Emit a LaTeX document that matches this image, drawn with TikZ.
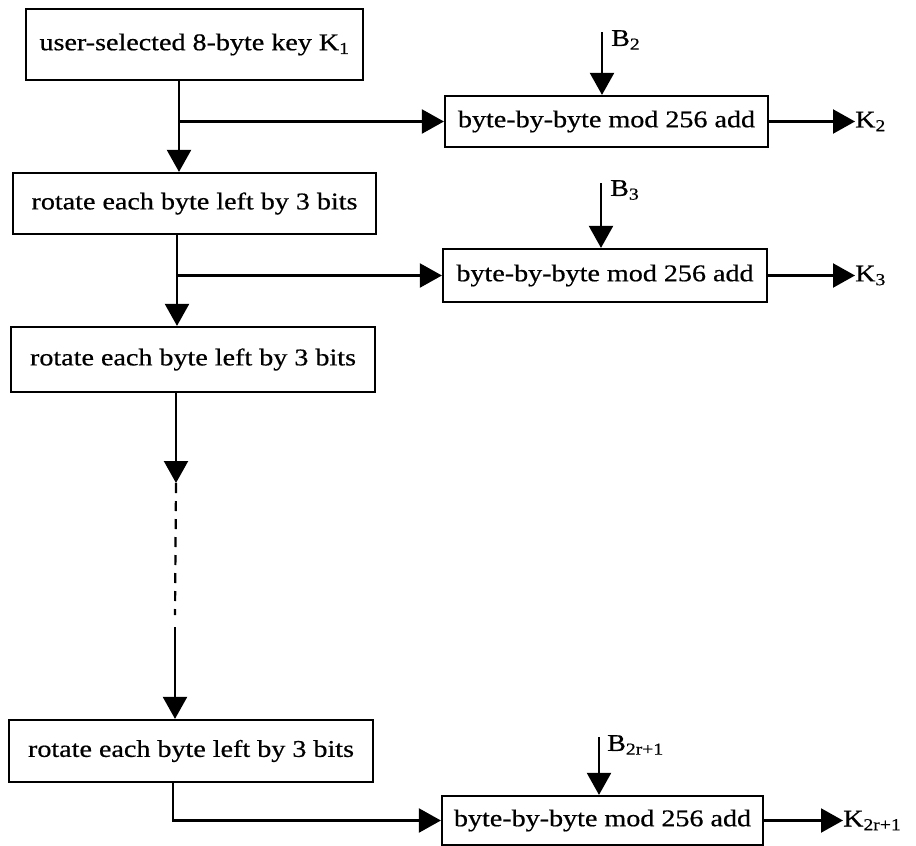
\documentclass[tikz,border=0pt]{standalone}
\usepackage{fontspec}
\setmainfont[FakeStretch=1.17,FakeBold=0.6]{Liberation Serif}
\usetikzlibrary{arrows.meta}
\begin{document}
\begin{tikzpicture}[x=1pt,y=-1pt,
  txt/.style={font=\fontsize{24}{27}\selectfont},
  box/.style={draw,line width=2.2pt,rectangle,inner sep=0pt,txt},
  lbl/.style={inner sep=0pt,txt},
  conn/.style={line width=2.2pt},
  arr/.style={conn,-{Triangle[length=22pt,width=24pt]}},
  dashline/.style={conn,dash pattern=on 10pt off 8pt}]
\useasboundingbox (0,0) rectangle (916,846);
% main column
\node[box,minimum width=337pt,minimum height=71pt] (key) at (194.5,44.5) {user-selected 8-byte key K\textsubscript{1}};
\node[box,minimum width=363pt,minimum height=61pt] (rot1) at (194.5,203.5) {rotate each byte left by 3 bits};
\node[box,minimum width=364pt,minimum height=65pt] (rot2) at (193,359.5) {rotate each byte left by 3 bits};
\node[box,minimum width=364pt,minimum height=62pt] (rot3) at (191,751) {rotate each byte left by 3 bits};
% adders
\node[box,minimum width=323pt,minimum height=51pt] (add1) at (606.5,121.5) {byte-by-byte mod 256 add};
\node[box,minimum width=324pt,minimum height=53pt] (add2) at (605,275.5) {byte-by-byte mod 256 add};
\node[box,minimum width=321pt,minimum height=49pt] (add3) at (602.5,820.5) {byte-by-byte mod 256 add};
% junctions
\coordinate (j1) at (179,121.5);
\coordinate (j2) at (177,275.5);
\coordinate (d1) at (176,483);
\coordinate (d2) at (175,627);
\coordinate (j3) at (173,820.5);
% top inputs
\coordinate (b2) at (602,32);
\coordinate (b3) at (601,183);
\coordinate (b4) at (599,737);
\node[lbl,anchor=north west] (lb2) at (611,30) {B\textsubscript{2}};
\node[lbl,anchor=north west] (lb3) at (610,180) {B\textsubscript{3}};
\node[lbl,anchor=north west] (lb4) at (607,735) {B\textsubscript{2r+1}};
% outputs
\coordinate (k2) at (855,121.5);
\coordinate (k3) at (855,275.5);
\coordinate (k4) at (843,820.5);
\node[lbl,anchor=west] (lk2) at (k2) {K\textsubscript{2}};
\node[lbl,anchor=west] (lk3) at (k3) {K\textsubscript{3}};
\node[lbl,anchor=west] (lk4) at (k4) {K\textsubscript{2r+1}};
% connectors
\draw[arr] (key.south -| j1) -- (rot1.north -| j1);
\draw[arr] (j1) -- (add1.west);
\draw[arr] (rot1.south -| j2) -- (rot2.north -| j2);
\draw[arr] (j2) -- (add2.west);
\draw[arr] (rot2.south -| d1) -- (d1);
\draw[dashline] (d1) -- (d2 |- 0,615);
\draw[arr] (d2) -- (rot3.north -| d2);
\draw[arr] (rot3.south -| j3) -- (j3) -- (add3.west);
\draw[arr] (b2) -- (add1.north -| b2);
\draw[arr] (b3) -- (add2.north -| b3);
\draw[arr] (b4) -- (add3.north -| b4);
\draw[arr] (add1.east) -- (k2);
\draw[arr] (add2.east) -- (k3);
\draw[arr] (add3.east) -- (k4);
\end{tikzpicture}
\end{document}
